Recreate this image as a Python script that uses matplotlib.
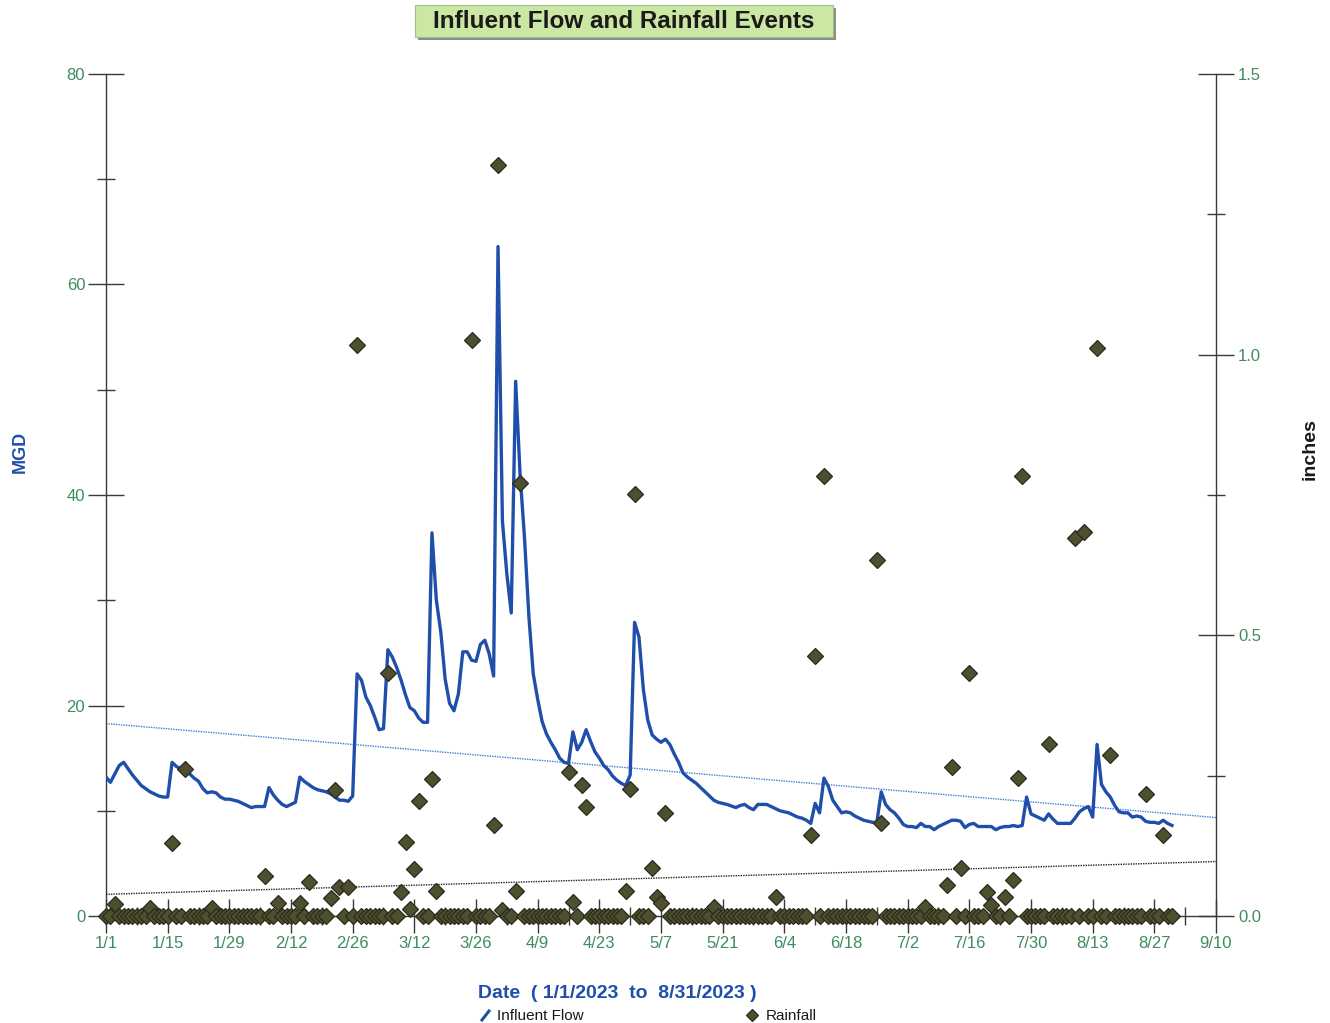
import numpy as np
import matplotlib
matplotlib.use('Agg')
import matplotlib.pyplot as plt
from matplotlib.patches import Rectangle
from matplotlib.lines import Line2D
from matplotlib.ticker import FixedLocator

plt.rcParams['font.family'] = ['Liberation Sans', 'DejaVu Sans']

W, H = 1330, 1023

# ---------------- data ----------------
# daily influent flow (MGD), 1/1/2023 .. 8/31/2023 (day 0 .. 242)
flow_mgd = [
    13.2, 12.7, 13.5, 14.3, 14.6, 14.0, 13.4, 12.9, 12.4, 12.1,   # 0-9
    11.8, 11.6, 11.4, 11.3, 11.3, 14.6, 14.2, 14.0, 13.8, 13.5,   # 10-19
    13.1, 12.8, 12.1, 11.7, 11.8, 11.7, 11.3, 11.1, 11.1, 11.0,   # 20-29
    10.9, 10.7, 10.5, 10.3, 10.4, 10.4, 10.4, 12.2, 11.5, 11.0,   # 30-39
    10.6, 10.4, 10.6, 10.8, 13.2, 12.8, 12.5, 12.2, 12.0, 11.9,   # 40-49
    11.8, 11.6, 11.3, 11.0, 11.0, 10.9, 11.4, 23.0, 22.4, 20.8,   # 50-59
    20.0, 18.9, 17.7, 17.8, 25.3, 24.6, 23.6, 22.4, 21.0, 19.8,   # 60-69
    19.5, 18.8, 18.4, 18.4, 36.4, 30.0, 27.0, 22.5, 20.2, 19.5,   # 70-79
    21.1, 25.1, 25.1, 24.3, 24.2, 25.8, 26.2, 24.9, 22.8, 63.6,   # 80-89
    37.5, 32.5, 28.8, 50.8, 42.0, 36.0, 28.5, 23.0, 20.6, 18.5,   # 90-99
    17.3, 16.5, 15.8, 15.0, 14.6, 14.5, 17.5, 15.8, 16.5, 17.7,   # 100-109
    16.6, 15.6, 15.0, 14.3, 13.9, 13.3, 12.9, 12.6, 12.4, 13.4,   # 110-119
    27.9, 26.5, 21.5, 18.6, 17.2, 16.8, 16.5, 16.8, 16.3, 15.4,   # 120-129
    14.6, 13.6, 13.2, 12.9, 12.6, 12.2, 11.8, 11.4, 11.0, 10.8,   # 130-139
    10.7, 10.6, 10.45, 10.3, 10.5, 10.6, 10.3, 10.1, 10.6, 10.6,  # 140-149
    10.6, 10.4, 10.2, 10.0, 9.9, 9.8, 9.6, 9.4, 9.3, 9.1,         # 150-159
    8.8, 10.7, 9.8, 13.1, 12.3, 11.0, 10.4, 9.8, 9.9, 9.8,        # 160-169
    9.5, 9.3, 9.1, 9.0, 8.9, 8.9, 11.8, 10.6, 10.1, 9.8,          # 170-179
    9.3, 8.7, 8.5, 8.5, 8.4, 8.8, 8.5, 8.5, 8.2, 8.5,             # 180-189
    8.7, 8.9, 9.1, 9.1, 9.0, 8.4, 8.7, 8.8, 8.5, 8.5,             # 190-199
    8.5, 8.5, 8.2, 8.4, 8.5, 8.5, 8.6, 8.5, 8.6, 11.3,            # 200-209
    9.7, 9.5, 9.3, 9.1, 9.7, 9.2, 8.8, 8.8, 8.8, 8.8,             # 210-219
    9.3, 9.9, 10.2, 10.4, 9.4, 16.3, 12.5, 11.8, 11.3, 10.5,      # 220-229
    9.9, 9.8, 9.8, 9.4, 9.5, 9.4, 9.0, 8.9, 8.9, 8.8,             # 230-239
    9.1, 8.8, 8.6,                                                # 240-242
]

# days (since 1/1) with measurable rainfall, and amounts (inches)
rain_days = [2, 10, 15, 18, 24, 36, 39, 44, 46, 51, 52, 53, 55, 57, 64,
             67, 68, 69, 70, 71, 74, 75, 83, 88, 89, 90, 93, 94, 105, 106,
             108, 109, 118, 119, 120, 124, 125, 126, 127, 138, 152, 160,
             161, 163, 175, 176, 186, 191, 192, 194, 196, 200, 201, 204,
             206, 207, 208, 214, 220, 222, 225, 228, 236, 240]
rain_inches = [0.021, 0.014, 0.13, 0.261, 0.014, 0.071, 0.023, 0.023, 0.06,
               0.032, 0.224, 0.051, 0.051, 1.018, 0.433, 0.043, 0.132, 0.012,
               0.083, 0.205, 0.244, 0.044, 1.027, 0.163, 1.337, 0.010, 0.044,
               0.771, 0.256, 0.025, 0.234, 0.195, 0.044, 0.226, 0.751, 0.085,
               0.034, 0.023, 0.183, 0.016, 0.034, 0.144, 0.464, 0.783, 0.634,
               0.165, 0.016, 0.055, 0.265, 0.085, 0.433, 0.043, 0.020, 0.034,
               0.064, 0.245, 0.783, 0.306, 0.673, 0.684, 1.011, 0.286, 0.217,
               0.144]

x_tick_days = list(range(0, 253, 14))
x_tick_labels = ['1/1', '1/15', '1/29', '2/12', '2/26', '3/12', '3/26', '4/9',
                 '4/23', '5/7', '5/21', '6/4', '6/18', '7/2', '7/16', '7/30',
                 '8/13', '8/27', '9/10']
flow_ticks = [0, 20, 40, 60, 80]
rain_ticks = [0.0, 0.5, 1.0, 1.5]
rain_tick_labels = ['0.0', '0.5', '1.0', '1.5']

# ---------------- derived series ----------------
days = np.arange(len(flow_mgd))
flow = np.array(flow_mgd)
rain = np.zeros(len(flow_mgd))
rain[np.array(rain_days)] = rain_inches

x_end = np.array([0, 252])
flow_fit = np.polyfit(days, flow, 1)
rain_fit = np.polyfit(days, rain, 1)

# ---------------- styling ----------------
GREEN = '#3f8c5e'
BLUE = '#1f4fab'
AXC = '#3a3a3a'
DIAMOND = '#4d4f2e'

fig = plt.figure(figsize=(W / 100, H / 100), dpi=100)
fig.patch.set_facecolor('white')

def fx(px):
    return px / W

def fy(py):
    return 1 - py / H

ax_left, ax_right, ax_top, ax_bot = 106, 1216, 74, 916
ax = fig.add_axes([fx(ax_left), fy(ax_bot), (ax_right - ax_left) / W,
                   (ax_bot - ax_top) / H])
ax2 = ax.twinx()

# trend lines
ax.plot(x_end, np.polyval(flow_fit, x_end), color='#3d7fd6', lw=1.0,
        ls=(0, (1, 0.8)), zorder=2)
ax2.plot(x_end, np.polyval(rain_fit, x_end), color='#222222', lw=1.0,
         ls=(0, (1, 0.8)), zorder=2)

# flow line
ax.plot(days, flow, color=BLUE, lw=2.4, zorder=3, solid_joinstyle='round')

# rainfall diamonds
ax2.plot(days, rain, ls='none', marker='D', ms=7.7, mfc=DIAMOND,
         mec='#2b2b1c', mew=0.9, clip_on=False, zorder=4)

ax.set_xlim(0, 252)
ax.set_ylim(0, 80)
ax2.set_ylim(0, 1.5)

for a in (ax, ax2):
    a.spines['top'].set_visible(False)
    for s in a.spines.values():
        s.set_color(AXC)
        s.set_linewidth(1.0)
ax.spines['right'].set_visible(False)
ax2.spines['left'].set_visible(False)
ax2.spines['bottom'].set_visible(False)

# x ticks
ax.xaxis.set_major_locator(FixedLocator(x_tick_days))
ax.set_xticklabels(x_tick_labels)
ax.xaxis.set_minor_locator(FixedLocator([d + 7 for d in x_tick_days[:-1]]))
ax.tick_params(axis='x', which='major', direction='inout', length=25,
               width=1.0, color=AXC, labelcolor=GREEN, labelsize=12, pad=2)
ax.tick_params(axis='x', which='minor', direction='inout', length=13,
               width=1.0, color=AXC)

# left y ticks
ax.yaxis.set_major_locator(FixedLocator(flow_ticks))
ax.yaxis.set_minor_locator(FixedLocator([10, 30, 50, 70]))
ax.tick_params(axis='y', which='major', direction='inout', length=26,
               width=1.0, color=AXC, labelcolor=GREEN, labelsize=12, pad=2)
ax.tick_params(axis='y', which='minor', direction='inout', length=13,
               width=1.0, color=AXC)

# right y ticks
ax2.yaxis.set_major_locator(FixedLocator(rain_ticks))
ax2.set_yticklabels(rain_tick_labels)
ax2.yaxis.set_minor_locator(FixedLocator([0.25, 0.75, 1.25]))
ax2.tick_params(axis='y', which='major', direction='inout', length=26,
                width=1.0, color=AXC, labelcolor=GREEN, labelsize=12, pad=3)
ax2.tick_params(axis='y', which='minor', direction='inout', length=13,
                width=1.0, color=AXC)

# axis titles
fig.text(fx(20), fy(452), 'MGD', rotation=90, ha='center', va='center',
         fontsize=13, fontweight='bold', color=BLUE)
fig.text(fx(1310), fy(449), 'inches', rotation=90, ha='center', va='center',
         fontsize=14, fontweight='bold', color='#1a1a1a')
fig.text(fx(617), fy(994), 'Date  ( 1/1/2023  to  8/31/2023 )', ha='center',
         va='center', fontsize=14, fontweight='bold', color=BLUE)

# title box
fig.patches.append(Rectangle((fx(418), fy(40)), (836 - 418) / W, 32 / H,
                             transform=fig.transFigure, facecolor='#8c8c8c',
                             edgecolor='none', zorder=0))
fig.patches.append(Rectangle((fx(415), fy(37)), (833 - 415) / W, 32 / H,
                             transform=fig.transFigure, facecolor='#cbe7a3',
                             edgecolor='#9cc184', lw=0.8, zorder=1))
fig.text(fx(624), fy(21), 'Influent Flow and Rainfall Events', ha='center',
         va='center', fontsize=17.5, fontweight='bold', color='#1a1a1a',
         zorder=2)

# legend along the bottom edge
fig.lines.append(Line2D([fx(482), fx(489)], [fy(1020), fy(1011)],
                        transform=fig.transFigure, color=BLUE, lw=2.2))
fig.text(fx(497), fy(1020), 'Influent Flow', ha='left', va='baseline',
         fontsize=11, color='#1a1a1a')
fig.lines.append(Line2D([fx(752)], [fy(1015)], transform=fig.transFigure,
                        ls='none', marker='D', ms=6.5, mfc=DIAMOND,
                        mec='#2b2b1c', mew=0.9))
fig.text(fx(766), fy(1020), 'Rainfall', ha='left', va='baseline',
         fontsize=11, color='#1a1a1a')

fig.savefig('out.png', dpi=100)
